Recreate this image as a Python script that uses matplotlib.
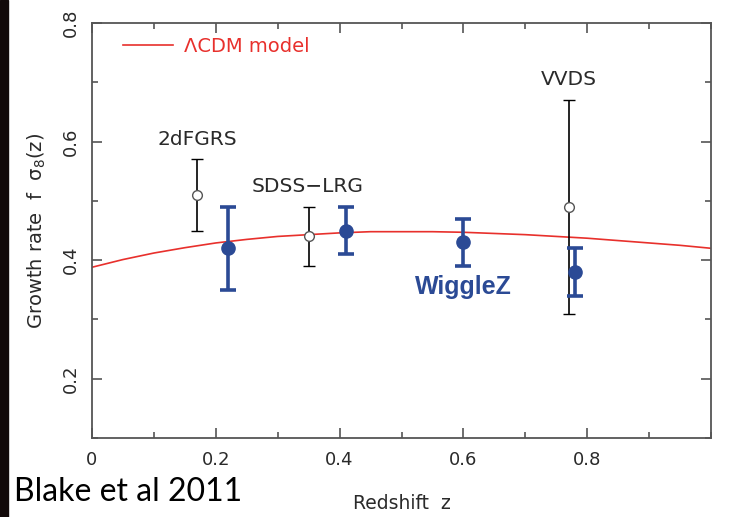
import matplotlib

matplotlib.use("Agg")
import matplotlib.pyplot as plt
from matplotlib.patches import Rectangle
from matplotlib.ticker import MultipleLocator

# LCDM model curve
model_z = [0.0, 0.05, 0.1, 0.15, 0.2, 0.25, 0.3, 0.35, 0.4, 0.45, 0.5,
           0.55, 0.6, 0.65, 0.7, 0.75, 0.8, 0.85, 0.9, 0.95, 1.0]
model_fs8 = [0.388, 0.401, 0.412, 0.421, 0.429, 0.435, 0.440, 0.443, 0.446, 0.448, 0.448,
             0.448, 0.447, 0.445, 0.443, 0.440, 0.437, 0.433, 0.429, 0.425, 0.420]

# other surveys
other_names = ["2dFGRS", "SDSS\u2212LRG", "VVDS"]
other_z = [0.17, 0.35, 0.77]
other_fs8 = [0.51, 0.44, 0.49]
other_err = [0.06, 0.05, 0.18]
# where the survey names sit (data coords)
name_z = [0.170, 0.349, 0.771]
name_y = [0.603, 0.524, 0.704]

# WiggleZ
wz_z = [0.22, 0.41, 0.60, 0.78]
wz_fs8 = [0.42, 0.45, 0.43, 0.38]
wz_err = [0.07, 0.04, 0.04, 0.04]

BLUE = "#2b4a95"
RED = "#e8302c"
AXCOL = "#555555"
TXT = "#2a2a2a"

fig = plt.figure(figsize=(7.33, 5.17), dpi=100)
ax = fig.add_axes([0.1255, 0.1528, 0.8445, 0.8027])

# dark strip on the left edge of the slide
fig.patches.append(Rectangle((0, 0), 0.011, 1, transform=fig.transFigure,
                             color="#120909", zorder=0))

ax.plot(model_z, model_fs8, color=RED, lw=1.2, label="\u039bCDM model", zorder=2)

ax.errorbar(other_z, other_fs8, yerr=other_err, fmt="o", ms=7, mfc="white",
            mec="#555555", mew=1.0, ecolor="black", elinewidth=1.2,
            capsize=4.5, capthick=1.2, zorder=3)

ax.errorbar(wz_z, wz_fs8, yerr=wz_err, fmt="o", ms=9.5, color=BLUE,
            elinewidth=2.6, capsize=6, capthick=2.6, zorder=4)

for name, z, y in zip(other_names, name_z, name_y):
    ax.text(z, y, name, ha="center", va="center", fontsize=14.5, color=TXT)
ax.text(0.60, 0.355, "WiggleZ", ha="center", va="center", fontsize=18,
        fontweight="bold", color=BLUE, family="Liberation Sans")

ax.set_xlim(0, 1.0)
ax.set_ylim(0.1, 0.8)
ax.xaxis.set_minor_locator(MultipleLocator(0.1))
ax.yaxis.set_minor_locator(MultipleLocator(0.1))
ax.set_xticks([0, 0.2, 0.4, 0.6, 0.8])
ax.set_xticklabels(["0", "0.2", "0.4", "0.6", "0.8"])
ax.set_yticks([0.2, 0.4, 0.6, 0.8])
ax.set_yticklabels(["0.2", "0.4", "0.6", "0.8"], rotation=90, va="center")

ax.tick_params(which="both", direction="in", top=True, right=True,
               color=AXCOL, labelcolor=TXT, labelsize=13, width=1.2)
ax.tick_params(which="major", length=7, pad=9)
ax.tick_params(which="minor", length=4)
for sp in ax.spines.values():
    sp.set_color(AXCOL)
    sp.set_linewidth(1.3)

ax.set_xlabel("Redshift  z", fontsize=13.5, color=TXT, labelpad=18)
ax.set_ylabel("Growth rate  f  \u03c3$_8$(z)", fontsize=14, color=TXT, labelpad=10)

leg = ax.legend(loc="upper left", bbox_to_anchor=(0.05, 0.966), frameon=False,
                borderpad=0, borderaxespad=0, handlelength=2.6,
                handletextpad=0.55, fontsize=14)
for t in leg.get_texts():
    t.set_color(RED)

fig.text(0.019, 0.048, "Blake et al 2011", fontsize=23, family="Lato",
         color="black", ha="left", va="center")

fig.savefig("out.png", dpi=100)
